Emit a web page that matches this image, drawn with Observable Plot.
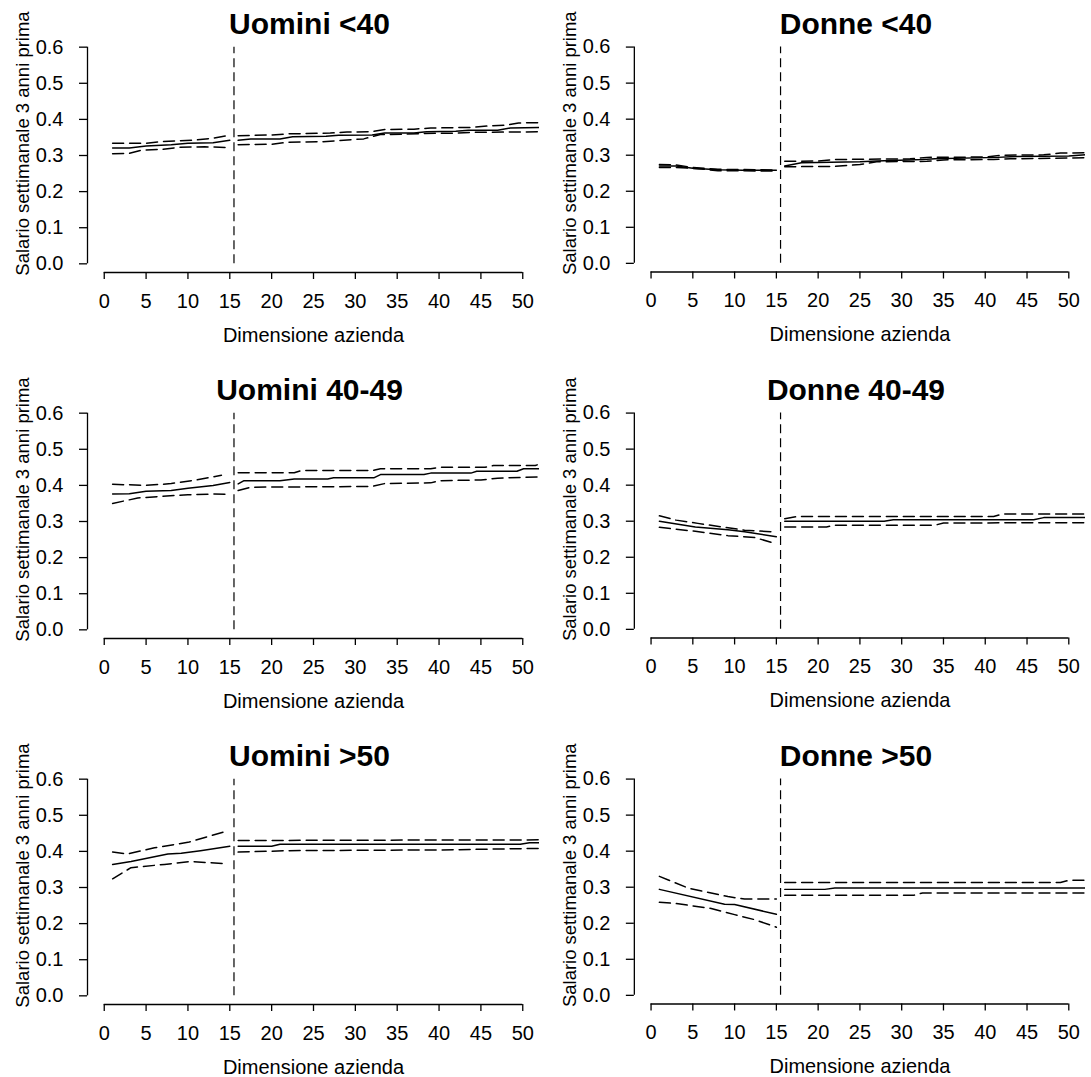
<!DOCTYPE html>
<html>
<head>
<meta charset="utf-8">
<script src="https://cdn.jsdelivr.net/npm/d3@7"></script>
<script src="https://cdn.jsdelivr.net/npm/@observablehq/plot@0.6"></script>
<style>
  html, body { margin: 0; padding: 0; background: #fff; overflow: hidden; }
  #wrap { position: relative; width: 1091px; height: 1077px; overflow: hidden; }
  .panel { position: absolute; }
</style>
</head>
<body>
<div id="wrap"></div>
<script>
// ---- data (x = dimensione azienda, y = salario settimanale) ----
const titles = ["Uomini <40", "Donne <40", "Uomini 40-49", "Donne 40-49", "Uomini >50", "Donne >50"];
const xLabel = "Dimensione azienda";
const yLabel = "Salario settimanale 3 anni prima";
const xTicks = [0, 5, 10, 15, 20, 25, 30, 35, 40, 45, 50];
const yTicks = [0, 0.1, 0.2, 0.3, 0.4, 0.5, 0.6];
const cutoff = 15.5;

const uomini40_est = [[1,.321],[3,.321],[5,.326],[8,.330],[10,.334],[13,.335],[15,.342],
  [16,.342],[17.5,.346],[21,.346],[22.5,.352],[26.5,.353],[28,.356],[32,.357],[33.5,.362],[37,.362],[38.5,.366],[42,.367],[43.5,.370],[47,.370],[48.5,.376],[54,.378]];
const uomini40_hi = [[1,.334],[5,.334],[7,.339],[9,.341],[11,.343],[13,.348],[15,.356],
  [16,.355],[20,.357],[22,.360],[27,.362],[29,.365],[32,.366],[33.5,.372],[37,.373],[39,.376],[44,.378],[46,.382],[48,.384],[49.5,.390],[54,.392]];
const uomini40_lo = [[1,.305],[3,.306],[4.5,.315],[7,.317],[9,.323],[12,.324],[15,.322],
  [16,.330],[20,.331],[22,.337],[26,.338],[29.5,.344],[31,.346],[33,.358],[36,.359],[38,.361],[42,.362],[44,.364],[54,.366]];

const donne40_est = [[1,.270],[3,.270],[5,.264],[8,.260],[11,.258],[15,.258],
  [16,.270],[18,.279],[25,.282],[27,.284],[32.5,.288],[34,.290],[41.5,.294],[43,.296],[50,.298],[52,.301],[54,.302]];
const donne40_hi = [[1,.274],[3,.273],[5,.266],[8,.261],[15,.259],
  [16,.283],[20,.284],[22,.288],[31,.290],[33,.294],[40,.295],[42,.300],[47,.301],[49,.306],[54,.307]];
const donne40_lo = [[1,.266],[3,.266],[6,.262],[8,.257],[15,.256],
  [16,.268],[22,.269],[25,.274],[27,.282],[33,.283],[35,.287],[41,.288],[43,.290],[52,.293],[54,.296]];

const uomini4049_est = [[1,.376],[3,.377],[5,.384],[8,.386],[10,.392],[13,.400],[15,.408],
  [16,.404],[16.7,.413],[21,.413],[22.7,.418],[26.7,.418],[27.4,.421],[32.2,.421],[33,.430],[38.2,.430],[39,.434],[43.8,.434],[44.5,.439],[49.3,.439],[50.1,.446],[54,.446]];
const uomini4049_hi = [[1,.403],[5,.400],[8,.405],[11,.415],[14,.428],
  [16,.435],[22.7,.435],[23.5,.441],[32,.441],[33,.446],[39,.446],[40,.450],[45.5,.450],[46.5,.455],[51.5,.455],[52,.459],[54,.459]];
const uomini4049_lo = [[1,.350],[4,.365],[7,.370],[10,.374],[13,.376],[15,.375],
  [16,.386],[17.5,.395],[32,.397],[33.5,.405],[39,.407],[40,.413],[45,.415],[47,.420],[54,.425]];

const donne4049_est = [[1,.300],[5.3,.284],[9.2,.276],[11.2,.271],[15,.257],
  [16,.300],[27.9,.300],[29,.304],[45.8,.304],[47,.310],[54,.310]];
const donne4049_hi = [[1,.315],[3,.303],[5.6,.294],[11.2,.275],[15,.270],
  [16,.307],[17.5,.313],[41,.313],[42,.320],[54,.320]];
const donne4049_lo = [[1,.283],[5.3,.272],[9.2,.260],[12.4,.255],[15,.237],
  [16,.284],[21,.284],[22,.289],[34,.289],[35,.295],[52,.296],[54,.297]];

const uomini50_est = [[1,.364],[3.2,.372],[7.6,.393],[9.2,.395],[11.5,.402],[15,.414],
  [16,.414],[20,.414],[21,.420],[49.7,.420],[50.8,.424],[54,.424]];
const uomini50_hi = [[1,.398],[2.8,.393],[6,.410],[10,.425],[14.5,.455],
  [16,.430],[30,.431],[54,.432]];
const uomini50_lo = [[1,.324],[3.2,.355],[7.2,.364],[10.3,.372],[14.5,.366],
  [16,.398],[22,.402],[40,.404],[54,.409]];

const donne50_est = [[1,.294],[8.8,.253],[10,.252],[15,.225],
  [16,.294],[20.8,.294],[22,.298],[54,.298]];
const donne50_hi = [[1,.330],[4.5,.297],[9.2,.274],[11.2,.267],[15,.267],
  [16,.313],[49,.313],[50,.319],[54,.319]];
const donne50_lo = [[1,.258],[2.9,.255],[7.2,.241],[10,.224],[12.4,.210],[15,.189],
  [16,.278],[31.5,.278],[32.5,.284],[54,.284]];

const estSeries = [uomini40_est, donne40_est, uomini4049_est, donne4049_est, uomini50_est, donne50_est];
const hiSeries  = [uomini40_hi,  donne40_hi,  uomini4049_hi,  donne4049_hi,  uomini50_hi,  donne50_hi];
const loSeries  = [uomini40_lo,  donne40_lo,  uomini4049_lo,  donne4049_lo,  uomini50_lo,  donne50_lo];

// ---- layout ----
const font = "'Liberation Sans', Arial, Helvetica, sans-serif";
const W = 545, H = 345;
const colLeft = [0, 547];
const rowTop = [0, 366, 732];
const wrap = document.getElementById("wrap");

function panel(i) {
  const seg = d => (d[0] < cutoff ? "a" : "b");
  const lineOpts = (dash) => ({
    x: d => d[0], y: d => d[1], z: seg,
    stroke: "black", strokeWidth: 1.5, clip: true,
    strokeDasharray: dash
  });
  return Plot.plot({
    width: W, height: H,
    marginLeft: 87, marginRight: 6, marginTop: 38, marginBottom: 73,
    x: {domain: [-2, 52]},
    y: {domain: [-0.024, 0.624]},
    style: {fontFamily: font, color: "black", background: "white", overflow: "visible"},
    marks: [
      Plot.ruleX([cutoff], {y1: 0, y2: 0.6, stroke: "black", strokeWidth: 1.2, strokeDasharray: "9,5"}),
      Plot.line(hiSeries[i], lineOpts("11,6")),
      Plot.line(loSeries[i], lineOpts("11,6")),
      Plot.line(estSeries[i], lineOpts(null)),
      Plot.ruleY([-0.024], {x1: 0, x2: 50, stroke: "black", strokeWidth: 1.3}),
      Plot.ruleX([-2], {y1: 0, y2: 0.6, stroke: "black", strokeWidth: 1.3}),
      Plot.axisX({ticks: xTicks, tickSize: 7, tickPadding: 14, fontSize: 20, label: null, strokeWidth: 1.3}),
      Plot.axisY({ticks: yTicks, tickSize: 8, tickPadding: 16, fontSize: 20, label: null, tickFormat: d3.format(".1f"), strokeWidth: 1.3}),
      Plot.text([titles[i]], {text: d => d, frameAnchor: "top", lineAnchor: "middle", dx: -4, dy: -14, fontSize: 30, fontWeight: "bold"}),
      Plot.text([xLabel], {text: d => d, frameAnchor: "bottom", lineAnchor: "middle", dy: 63, fontSize: 20}),
      Plot.text([yLabel], {text: d => d, frameAnchor: "left", textAnchor: "middle", dx: -64, dy: -12, rotate: -90, fontSize: 18.5})
    ]
  });
}

for (let i = 0; i < 6; i++) {
  const el = panel(i);
  const div = document.createElement("div");
  div.className = "panel";
  div.style.left = colLeft[i % 2] + "px";
  div.style.top = rowTop[Math.floor(i / 2)] + "px";
  div.appendChild(el);
  wrap.appendChild(div);
}
</script>
</body>
</html>
